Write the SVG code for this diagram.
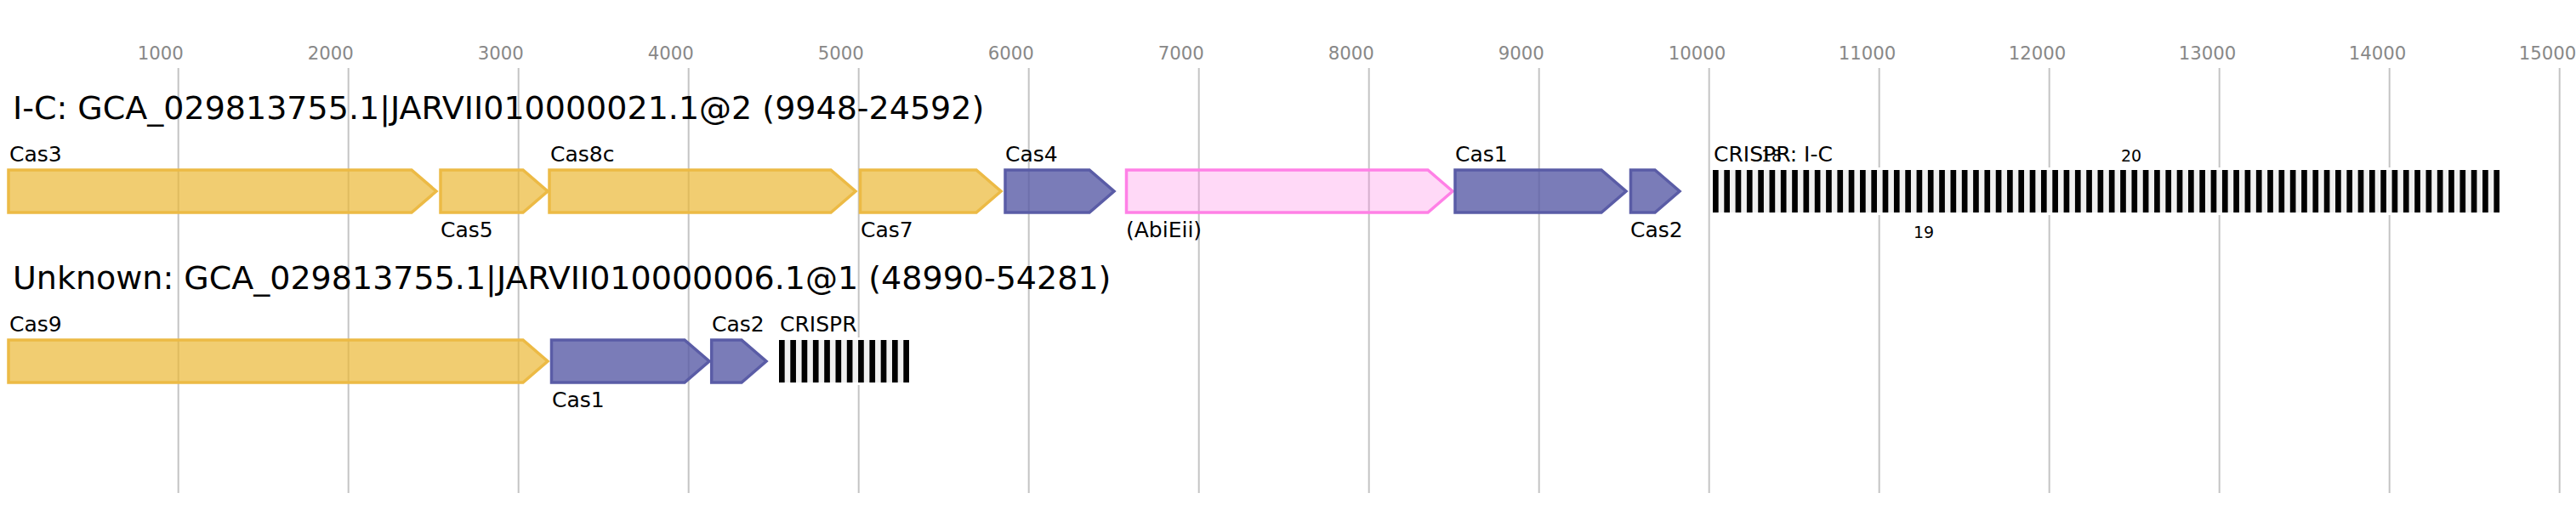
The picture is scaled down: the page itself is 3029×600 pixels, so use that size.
<svg xmlns="http://www.w3.org/2000/svg" width="3029" height="600" viewBox="0 0 3029 600">
<style>
text { font-family: "DejaVu Sans", "Liberation Sans", sans-serif; }
.axis { font-size: 21.25px; fill: #888888; }
.grid { stroke: #c4c4c4; stroke-width: 2; }
.title { font-size: 38px; fill: #000000; }
.lbl { font-size: 25px; fill: #000000; }
.num { font-size: 19px; fill: #000000; }
.y { fill: #ebb835; fill-opacity: 0.7; stroke: #ecba45; stroke-width: 3.5; stroke-linejoin: miter; }
.b { fill: #595ba6; fill-opacity: 0.8; stroke: #5a5ca6; stroke-width: 3.5; }
.p { fill: #ff80e6; fill-opacity: 0.3; stroke: #ff80e6; stroke-width: 3.5; }
.arrbg { fill: #f0f0f0; }
.rep { stroke: #000000; stroke-width: 50; }
</style>
<rect x="0" y="0" width="3029" height="600" fill="#ffffff"/>
<g id="axis">
<line class="grid" x1="209.7" y1="80" x2="209.7" y2="580"/>
<line class="grid" x1="409.7" y1="80" x2="409.7" y2="580"/>
<line class="grid" x1="609.7" y1="80" x2="609.7" y2="580"/>
<line class="grid" x1="809.7" y1="80" x2="809.7" y2="580"/>
<line class="grid" x1="1009.7" y1="80" x2="1009.7" y2="580"/>
<line class="grid" x1="1209.7" y1="80" x2="1209.7" y2="580"/>
<line class="grid" x1="1409.7" y1="80" x2="1409.7" y2="580"/>
<line class="grid" x1="1609.7" y1="80" x2="1609.7" y2="580"/>
<line class="grid" x1="1809.7" y1="80" x2="1809.7" y2="580"/>
<line class="grid" x1="2009.7" y1="80" x2="2009.7" y2="580"/>
<line class="grid" x1="2209.7" y1="80" x2="2209.7" y2="580"/>
<line class="grid" x1="2409.7" y1="80" x2="2409.7" y2="580"/>
<line class="grid" x1="2609.7" y1="80" x2="2609.7" y2="580"/>
<line class="grid" x1="2809.7" y1="80" x2="2809.7" y2="580"/>
<line class="grid" x1="3009.7" y1="80" x2="3009.7" y2="580"/>
<text class="axis" x="161.7" y="70">1000</text>
<text class="axis" x="361.7" y="70">2000</text>
<text class="axis" x="561.7" y="70">3000</text>
<text class="axis" x="761.7" y="70">4000</text>
<text class="axis" x="961.7" y="70">5000</text>
<text class="axis" x="1161.7" y="70">6000</text>
<text class="axis" x="1361.7" y="70">7000</text>
<text class="axis" x="1561.7" y="70">8000</text>
<text class="axis" x="1761.7" y="70">9000</text>
<text class="axis" x="1961.7" y="70">10000</text>
<text class="axis" x="2161.7" y="70">11000</text>
<text class="axis" x="2361.7" y="70">12000</text>
<text class="axis" x="2561.7" y="70">13000</text>
<text class="axis" x="2761.7" y="70">14000</text>
<text class="axis" x="2961.7" y="70">15000</text>
</g>
<text id="title1" class="title" x="15" y="140">I-C: GCA_029813755.1|JARVII010000021.1@2 (9948-24592)</text>
<text id="title2" class="title" x="15" y="340">Unknown: GCA_029813755.1|JARVII010000006.1@1 (48990-54281)</text>
<g id="connectors"/>
<g id="r1-cas3"><path class="y" d="M10,200 L484,200 L513,225 L484,250 L10,250 Z"/><text class="lbl" x="11" y="190">Cas3</text></g>
<g id="r1-cas5"><path class="y" d="M518,200 L615,200 L644,225 L615,250 L518,250 Z"/><text class="lbl" x="518" y="279">Cas5</text></g>
<g id="r1-cas8c"><path class="y" d="M646,200 L977,200 L1006,225 L977,250 L646,250 Z"/><text class="lbl" x="647" y="190">Cas8c</text></g>
<g id="r1-cas7"><path class="y" d="M1011.5,200 L1148,200 L1177,225 L1148,250 L1011.5,250 Z"/><text class="lbl" x="1012" y="279">Cas7</text></g>
<g id="r1-cas4"><path class="b" d="M1182,200 L1281,200 L1310,225 L1281,250 L1182,250 Z"/><text class="lbl" x="1182" y="190">Cas4</text></g>
<g id="r1-abieii"><path class="p" d="M1324.5,200 L1679,200 L1708,225 L1679,250 L1324.5,250 Z"/><text class="lbl" x="1324" y="279">(AbiEii)</text></g>
<g id="r1-cas1"><path class="b" d="M1711,200 L1883,200 L1912,225 L1883,250 L1711,250 Z"/><text class="lbl" x="1711" y="190">Cas1</text></g>
<g id="r1-cas2"><path class="b" d="M1917.5,200 L1946,200 L1975,225 L1946,250 L1917.5,250 Z"/><text class="lbl" x="1917" y="279">Cas2</text></g>
<g id="r1-crispr">
<rect x="2014" y="197" width="925" height="56" fill="#ffffff"/>
<rect class="arrbg" x="2014" y="200" width="925" height="50"/>
<line class="rep" x1="2014" y1="225" x2="2939.06" y2="225" stroke-dasharray="6.67 6.64"/>
<text class="lbl" x="2015" y="190">CRISPR: I-C</text>
<text class="num" x="2071" y="190">18</text>
<text class="num" x="2250" y="280">19</text>
<text class="num" x="2494" y="190">20</text>
</g>
<g id="r2-cas9"><path class="y" d="M10,400 L615,400 L644,425 L615,450 L10,450 Z"/><text class="lbl" x="11" y="390">Cas9</text></g>
<g id="r2-cas1"><path class="b" d="M648.5,400 L805,400 L834,425 L805,450 L648.5,450 Z"/><text class="lbl" x="649" y="479">Cas1</text></g>
<g id="r2-cas2"><path class="b" d="M836.7,400 L872,400 L901,425 L872,450 L836.7,450 Z"/><text class="lbl" x="837" y="390">Cas2</text></g>
<g id="r2-crispr">
<rect x="916" y="397" width="153" height="56" fill="#ffffff"/>
<rect class="arrbg" x="916" y="400" width="153" height="50"/>
<line class="rep" x1="916" y1="425" x2="1068.97" y2="425" stroke-dasharray="6.67 6.63"/>
<text class="lbl" x="917" y="390">CRISPR</text>
</g>
</svg>
